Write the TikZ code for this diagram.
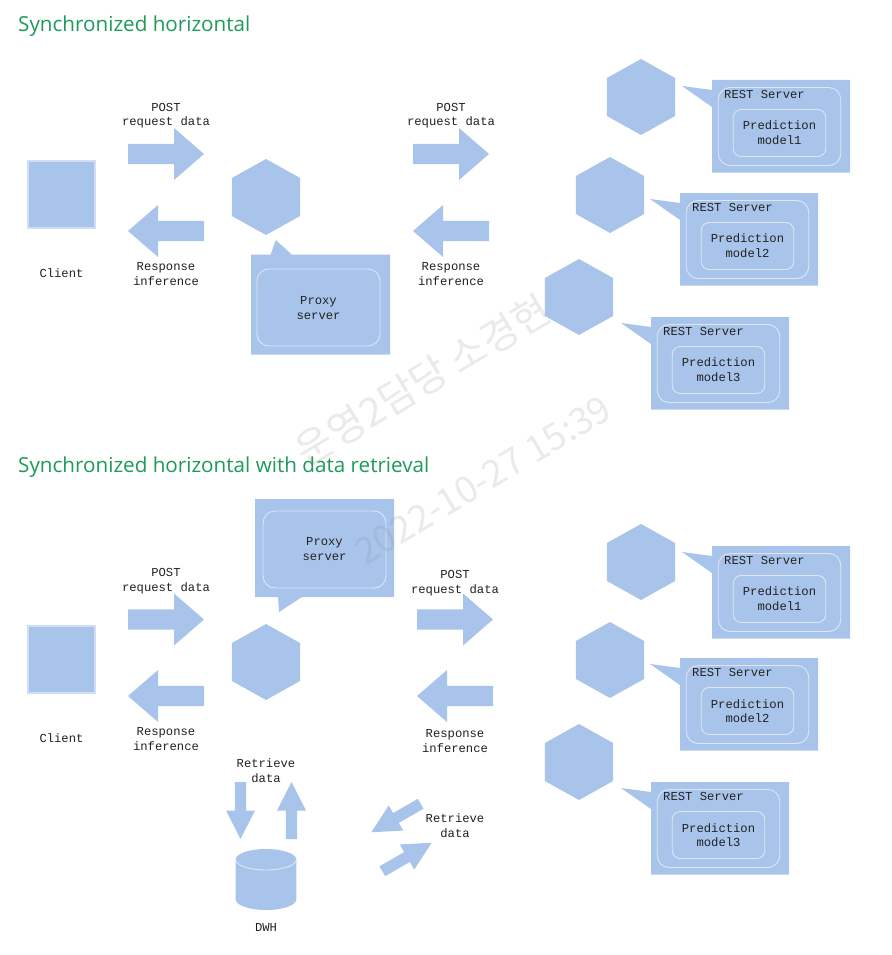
\documentclass[tikz,border=0pt]{standalone}
\usepackage{fontspec}
\setmainfont{Liberation Mono}
\newfontfamily\headfont{Open Sans}
\newfontfamily\wmfont{Noto Sans CJK KR}
\usetikzlibrary{shapes.geometric}
\definecolor{shapeblue}{HTML}{A9C4EB}
\definecolor{softline}{HTML}{DCE7F6}
\definecolor{clientline}{HTML}{CFDEF5}
\definecolor{headgreen}{HTML}{1E9A5B}
\definecolor{inktext}{HTML}{222222}
\tikzset{
  x=1pt,y=-1pt,
  lbl/.style={font=\fontsize{12.2}{14.7}\selectfont,text=inktext,align=center,inner sep=0pt},
  heading/.style={font=\headfont\fontsize{20.65}{24}\selectfont,text=headgreen,anchor=base west,inner sep=0pt},
  hexa/.style={regular polygon,regular polygon sides=6,shape border rotate=30,fill=shapeblue,minimum size=76pt,inner sep=0pt,draw=none,xscale=1.035},
  clientbox/.style={rectangle,fill=shapeblue,draw=clientline,line width=1.4pt,minimum width=67pt,minimum height=67pt,inner sep=0pt},
  softbox/.style={rectangle,rounded corners=#1,draw=softline,line width=.9pt,inner sep=0pt},
  softbox/.default=12pt,
  bigarrow/.pic={\fill[shapeblue] (-38,-10.2)--(8,-10.2)--(8,-26)--(38,0)--(8,26)--(8,10.2)--(-38,10.2)--cycle;},
  smallarrow/.pic={\fill[shapeblue] (-28.5,-5.7)--(0,-5.7)--(0,-14.5)--(28.5,0)--(0,14.5)--(0,5.7)--(-28.5,5.7)--cycle;},
  wm/.style={font=\wmfont\fontsize{#1}{40}\selectfont,text=gray,text opacity=.16,rotate=31,inner sep=0pt}
}
% #1 id, #2 left, #3 top, #4 hex dx, #5 hex dy, #6 model number
\newcommand{\restunit}[6]{%
  \begin{scope}[shift={(#2,#3)}]
    \node[hexa] (hex#1) at (#4,#5) {};
    \fill[shapeblue] (0,0)--(138,0)--(138,92.5)--(0,92.5)--(0,27)--(-30,6)--(0,10)--cycle;
    \node[softbox,minimum width=122.5pt,minimum height=78pt] (rest#1) at (67.5,46.5) {};
    \node[softbox=8pt,minimum width=92.5pt,minimum height=47pt,lbl] (model#1) at (67.5,53) {Prediction\\model#6};
    \node[lbl,anchor=west] (resttext#1) at (12,14.5) {REST Server};
  \end{scope}}
\begin{document}
\begin{tikzpicture}
\useasboundingbox (0,0) rectangle (891,955);
\fill[white] (0,0) rectangle (891,955);

\node[heading] (h1) at (18,32) {Synchronized horizontal};
\node[heading] (h2) at (18,472) {Synchronized horizontal with data retrieval};

% ---------- upper diagram ----------
\node[clientbox] (client1) at (61.5,194.3) {};
\node[lbl] (clientlbl1) at (61.5,273) {Client};
\pic at (166,154) {bigarrow};
\pic[rotate=180] at (166,231) {bigarrow};
\pic at (451,154) {bigarrow};
\pic[rotate=180] at (451,231) {bigarrow};
\node[lbl] (post1) at (166,115.7) {POST\\request data};
\node[lbl] (resp1) at (166,274) {Response\\inference};
\node[lbl] (post2) at (451,115.7) {POST\\request data};
\node[lbl] (resp2) at (451,274) {Response\\inference};
\node[hexa] (hexproxy1) at (266,197) {};
\fill[shapeblue] (251,254.5)--(270.7,254.5)--(275.7,240)--(291.7,254.5)--(390,254.5)--(390,354.5)--(251,354.5)--cycle;
\node[softbox,minimum width=123pt,minimum height=77pt] (proxyin1) at (318.5,307.5) {};
\node[lbl] (proxy1) at (318.5,308) {Proxy\\server};
\restunit{a}{712}{80}{-71}{17}{1}
\restunit{b}{680}{193}{-70}{2}{2}
\restunit{c}{651}{317}{-72}{-20}{3}

% ---------- lower diagram ----------
\node[clientbox] (client2) at (61.5,659.5) {};
\node[lbl] (clientlbl2) at (61.5,738) {Client};
\pic at (166,619.5) {bigarrow};
\pic[rotate=180] at (166,696) {bigarrow};
\pic at (455,619.5) {bigarrow};
\pic[rotate=180] at (455,696) {bigarrow};
\node[lbl] (post3) at (166,581) {POST\\request data};
\node[lbl] (resp3) at (166,739) {Response\\inference};
\node[lbl] (post4) at (455,583.5) {POST\\request data};
\node[lbl] (resp4) at (455,741) {Response\\inference};
\node[hexa] (hexproxy2) at (266,662) {};
\fill[shapeblue] (255,499)--(394,499)--(394,597)--(302,597)--(279,612)--(278,597)--(255,597)--cycle;
\node[softbox,minimum width=123pt,minimum height=77pt] (proxyin2) at (324.5,549.5) {};
\node[lbl] (proxy2) at (324.5,549) {Proxy\\server};
\restunit{d}{712}{546}{-71}{16}{1}
\restunit{e}{680}{658}{-70}{2}{2}
\restunit{f}{651}{782}{-72}{-20}{3}

% data warehouse
\fill[shapeblue] (235.7,859.5) .. controls (235.7,853.7) and (249.3,849) .. (266,849)
  .. controls (282.7,849) and (296.3,853.7) .. (296.3,859.5)
  -- (296.3,899.5) .. controls (296.3,905.3) and (282.7,910) .. (266,910)
  .. controls (249.3,910) and (235.7,905.3) .. (235.7,899.5) -- cycle;
\draw[softline,line width=.9pt] (235.7,859.5) .. controls (235.7,865.3) and (249.3,870) .. (266,870)
  .. controls (282.7,870) and (296.3,865.3) .. (296.3,859.5);
\node[lbl] (dwh) at (266,927) {DWH};
\node[lbl] (retr1) at (266,770.5) {Retrieve\\data};
\node[lbl] (retr2) at (455,825.5) {Retrieve\\data};
\pic[rotate=-90] at (240.5,810.5) {smallarrow};
\pic[rotate=90] at (291.5,810.5) {smallarrow};
\pic[rotate=210] at (396,818) {smallarrow};
\pic[rotate=30] at (407,857) {smallarrow};

% watermark
\node[wm=40] (wm1) at (423,380) {운영2담당 소경현};
\node[wm=37] (wm2) at (483,480) {2022-10-27 15:39};
\end{tikzpicture}
\end{document}
